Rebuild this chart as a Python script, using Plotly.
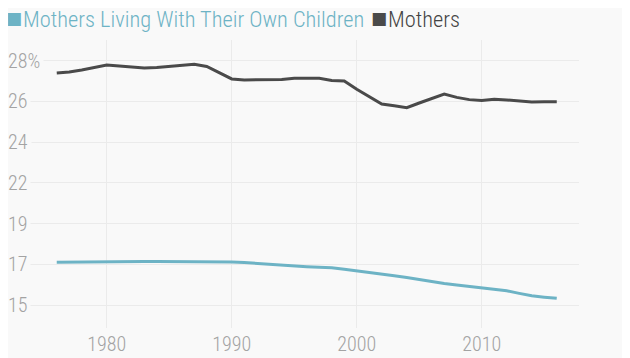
import plotly.graph_objects as go

years = list(range(1976, 2017))
mothers = [27.35, 27.40, 27.51, 27.64, 27.77, 27.72, 27.65, 27.61, 27.64, 27.69,
           27.78, 27.81, 27.69, 27.35, 27.03, 26.98, 26.99, 26.99, 27.00, 27.07,
           27.06, 27.06, 26.95, 26.92, 26.48, 26.09, 25.70, 25.60, 25.50, 25.75,
           25.99, 26.23, 26.05, 25.93, 25.88, 25.95, 25.91, 25.87, 25.81, 25.82, 25.82]
with_children = [17.29, 17.30, 17.31, 17.32, 17.33, 17.33, 17.33, 17.33, 17.33, 17.33,
                 17.33, 17.33, 17.33, 17.33, 17.30, 17.27, 17.22, 17.17, 17.13, 17.09,
                 17.05, 17.02, 16.99, 16.91, 16.83, 16.75, 16.66, 16.57, 16.47, 16.36,
                 16.25, 16.16, 16.08, 16.01, 15.95, 15.86, 15.77, 15.63, 15.50, 15.43, 15.37]

y_tick_values = [15, 17.1667, 19.3333, 21.5, 23.6667, 25.8333, 28]
y_tick_labels = ["15", "17", "19", "22", "24", "26", "28%"]
x_tick_values = [1980, 1990, 2000, 2010]
x_tick_labels = ["1980", "1990", "2000", "2010"]
series_names = ["Mothers Living With Their Own Children", "Mothers"]

teal = "#6db3c5"
dark = "#4a4a4a"
bg = "#f9f9f9"
grid = "#ebebeb"
tick_color = "#a3a3a3"
font = "Roboto Condensed"

fig = go.Figure()
fig.add_trace(go.Scatter(x=years, y=with_children, mode="lines",
                         line=dict(color=teal, width=3), name=series_names[0]))
fig.add_trace(go.Scatter(x=years, y=mothers, mode="lines",
                         line=dict(color=dark, width=3), name=series_names[1]))

for v, t in zip(y_tick_values, y_tick_labels):
    fig.add_annotation(x=0, xref="paper", y=v, yref="y", text=t, showarrow=False,
                       xanchor="left", yanchor="middle", xshift=-26,
                       font=dict(family=font, size=20, weight=300, color=tick_color),
                       bgcolor=bg, borderpad=3)

# legend: colored squares + labels
legend_items = [(series_names[0], teal, teal, -22), (series_names[1], dark, "#444444", 343)]
for name, sq_color, txt_color, xs in legend_items:
    fig.add_annotation(x=0, xref="paper", y=1, yref="paper", text="■", showarrow=False,
                       xanchor="left", yanchor="middle", xshift=xs - 3, yshift=22,
                       font=dict(family="DejaVu Sans", size=17, color=sq_color), borderpad=0)
    fig.add_annotation(x=0, xref="paper", y=1, yref="paper", text=name, showarrow=False,
                       xanchor="left", yanchor="middle", xshift=xs + 14, yshift=21,
                       font=dict(family=font, size=22.4, weight=300, color=txt_color), borderpad=0)

fig.update_layout(
    width=630, height=358,
    margin=dict(l=22, r=59, t=32, b=38),
    paper_bgcolor=bg, plot_bgcolor=bg,
    showlegend=False,
    font=dict(family=font, color=tick_color),
    xaxis=dict(range=[1973.86, 2017.78], tickvals=x_tick_values, ticktext=x_tick_labels,
               showgrid=True, gridcolor=grid, gridwidth=1, zeroline=False, showline=False,
               ticks="", automargin=False,
               tickfont=dict(family=font, size=20, weight=300, color=tick_color), ticklabelstandoff=2),
    yaxis=dict(range=[13.79, 29.1], tickvals=y_tick_values, showticklabels=False, automargin=False,
               showgrid=True, gridcolor=grid, gridwidth=1, zeroline=False, showline=False, ticks=""),
)

fig.write_html("out.html")
